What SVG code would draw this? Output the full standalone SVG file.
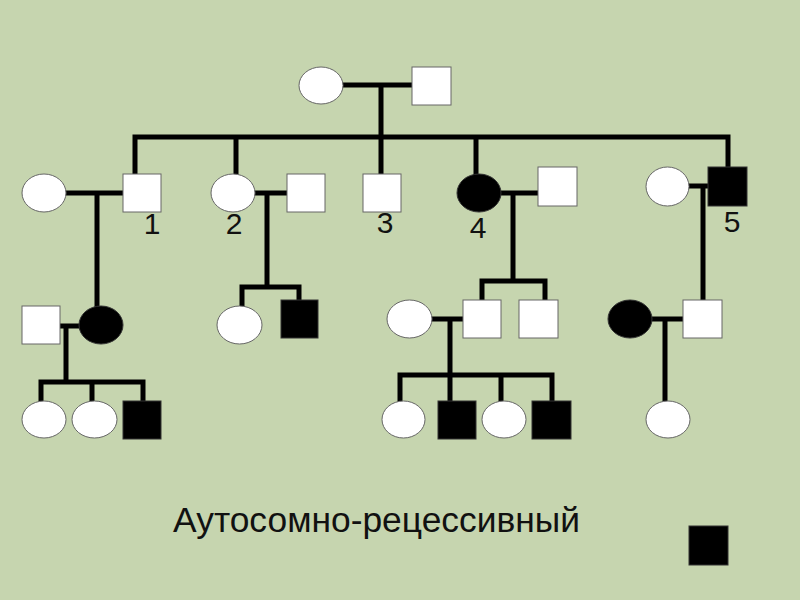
<svg xmlns="http://www.w3.org/2000/svg" width="800" height="600" viewBox="0 0 800 600">
<style>
.bg{fill:#c6d5af}
.w{fill:#fff;stroke:#666;stroke-width:1}
.b{fill:#000;stroke:#333;stroke-width:1}
.ln{fill:none;stroke:#000;stroke-width:5;stroke-linecap:square}
.num{font-family:"Liberation Sans",Arial,sans-serif;font-size:30px;fill:#111;text-anchor:middle}
.ttl{font-family:"Liberation Sans",Arial,sans-serif;font-size:35px;fill:#111}
</style>
<rect class="bg" x="0" y="0" width="800" height="600"/>
<g id="connectors">
<path class="ln" d="M343 85H412M381 85V137M135 137H728M135 137V174M236 137V174M381 137V174M476 137V174M728 137V167"/>
<path class="ln" d="M66 193H123M97 193V306"/>
<path class="ln" d="M255 193H287M267 193V287M242 287H299M242 287V306M299 287V300"/>
<path class="ln" d="M501 193H538M513 193V281M482 281H545M482 281V300M545 281V300"/>
<path class="ln" d="M689 186H708M703 186V300"/>
<path class="ln" d="M60 326H79M66 326V382M41 382H143M41 382V401M92 382V401M143 382V401"/>
<path class="ln" d="M432 319H463M450 319V375M400 375H552M400 375V401M450 375V401M501 375V401M552 375V401"/>
<path class="ln" d="M652 319H683M665 319V401"/>
</g>
<g id="gp-f"><ellipse class="w" cx="321" cy="85.5" rx="22" ry="18.5"/></g>
<g id="gp-m"><rect class="w" x="412" y="67" width="39" height="38"/></g>
<g id="s1-wife"><ellipse class="w" cx="44" cy="193" rx="22" ry="19"/></g>
<g id="s1"><rect class="w" x="123" y="174" width="38" height="38"/><text class="num" x="152" y="234">1</text></g>
<g id="s2"><ellipse class="w" cx="233" cy="193" rx="22" ry="19"/><text class="num" x="234" y="234">2</text></g>
<g id="s2-husband"><rect class="w" x="287" y="174" width="38" height="38"/></g>
<g id="s3"><rect class="w" x="363" y="174" width="38" height="38"/><text class="num" x="385" y="233">3</text></g>
<g id="s4"><ellipse class="b" cx="479" cy="193" rx="22" ry="19"/><text class="num" x="478" y="238">4</text></g>
<g id="s4-husband"><rect class="w" x="538" y="167" width="39" height="39"/></g>
<g id="s5-wife"><ellipse class="w" cx="667.5" cy="186.5" rx="21.5" ry="19.5"/></g>
<g id="s5"><rect class="b" x="708" y="167" width="39" height="39"/><text class="num" x="732" y="232">5</text></g>
<g id="g3-a-husband"><rect class="w" x="22" y="306" width="38" height="38"/></g>
<g id="g3-a"><ellipse class="b" cx="101" cy="325" rx="22" ry="19"/></g>
<g id="g3-b"><ellipse class="w" cx="239.5" cy="325" rx="22.5" ry="19"/></g>
<g id="g3-c"><rect class="b" x="281" y="300" width="37" height="38"/></g>
<g id="g3-d-wife"><ellipse class="w" cx="409.5" cy="319" rx="22.5" ry="19"/></g>
<g id="g3-d"><rect class="w" x="463" y="300" width="38" height="38"/></g>
<g id="g3-e"><rect class="w" x="519" y="300" width="39" height="38"/></g>
<g id="g3-f-wife"><ellipse class="b" cx="630" cy="319" rx="22" ry="19"/></g>
<g id="g3-f"><rect class="w" x="683" y="300" width="39" height="38"/></g>
<g id="g4-1"><ellipse class="w" cx="44" cy="419.5" rx="22" ry="18.5"/></g>
<g id="g4-2"><ellipse class="w" cx="94.5" cy="419.5" rx="22.5" ry="18.5"/></g>
<g id="g4-3"><rect class="b" x="123" y="401" width="38" height="38"/></g>
<g id="g4-4"><ellipse class="w" cx="403.5" cy="419.5" rx="21.5" ry="18.5"/></g>
<g id="g4-5"><rect class="b" x="438" y="401" width="38" height="38"/></g>
<g id="g4-6"><ellipse class="w" cx="504" cy="419.5" rx="22" ry="18.5"/></g>
<g id="g4-7"><rect class="b" x="532" y="401" width="39" height="38"/></g>
<g id="g4-8"><ellipse class="w" cx="668" cy="419.5" rx="22" ry="18.5"/></g>
<g id="title"><text class="ttl" x="173" y="532" textLength="407" lengthAdjust="spacingAndGlyphs">Аутосомно-рецессивный</text></g>
<g id="legend"><rect class="b" x="689" y="526" width="39" height="39"/></g>
</svg>
